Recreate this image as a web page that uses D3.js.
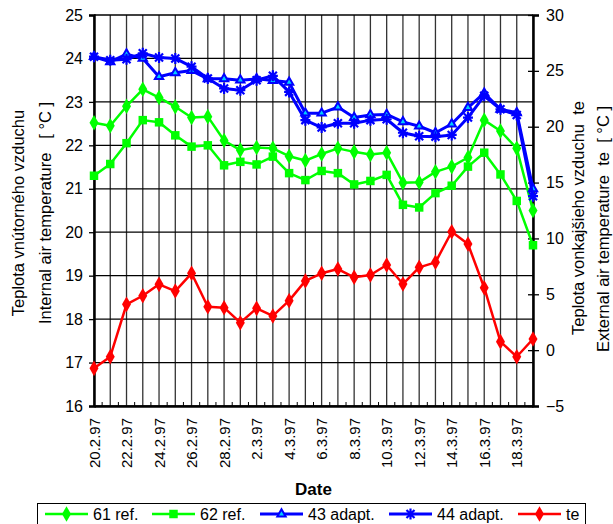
<!DOCTYPE html>
<html>
<head>
<meta charset="utf-8">
<script src="https://cdn.jsdelivr.net/npm/d3@7"></script>
<style>
  body { margin: 0; background: #fff; }
  svg { display: block; font-family: "Liberation Sans", Arial, sans-serif; }
</style>
</head>
<body>
<div id="chart"></div>
<script>
// dates (one measurement per day)
const dates = ["20.2.97","21.2.97","22.2.97","23.2.97","24.2.97","25.2.97","26.2.97","27.2.97","28.2.97",
  "1.3.97","2.3.97","3.3.97","4.3.97","5.3.97","6.3.97","7.3.97","8.3.97","9.3.97","10.3.97",
  "11.3.97","12.3.97","13.3.97","14.3.97","15.3.97","16.3.97","17.3.97","18.3.97","19.3.97"];

// internal air temperature, left axis
const ref61 = [22.52,22.45,22.9,23.29,23.1,22.89,22.64,22.66,22.11,21.89,21.95,21.93,21.75,21.65,
  21.8,21.93,21.85,21.79,21.83,21.14,21.15,21.39,21.51,21.72,22.58,22.33,21.93,20.5];
const ref62 = [21.3,21.57,22.05,22.58,22.53,22.23,21.97,22.0,21.54,21.62,21.56,21.74,21.36,21.2,
  21.41,21.36,21.1,21.18,21.32,20.63,20.57,20.9,21.07,21.51,21.83,21.33,20.72,19.7];
const adapt43 = [24.04,23.92,24.1,24.0,23.58,23.67,23.72,23.53,23.53,23.5,23.53,23.49,23.45,22.74,
  22.74,22.88,22.64,22.7,22.71,22.54,22.44,22.29,22.49,22.87,23.2,22.83,22.75,21.0];
const adapt44 = [24.04,23.96,23.98,24.12,24.02,24.0,23.81,23.54,23.31,23.27,23.5,23.6,23.23,22.58,
  22.41,22.51,22.51,22.58,22.6,22.29,22.21,22.2,22.24,22.64,23.14,22.83,22.7,20.83];
// external air temperature, right axis
const te = [-1.63,-0.59,4.1,4.87,5.89,5.29,6.88,3.89,3.8,2.46,3.74,3.06,4.43,6.2,
  6.88,7.26,6.52,6.73,7.62,5.92,7.41,7.86,10.6,9.5,5.59,0.76,-0.59,1.0];

const leftTicks = [16,17,18,19,20,21,22,23,24,25];
const rightTicks = [-5,0,5,10,15,20,25,30];

const width = 613, height = 524;
const margin = { top: 15, right: 80, bottom: 118, left: 94 };
const x0 = margin.left, x1 = width - margin.right, y0 = margin.top, y1 = height - margin.bottom;

const svg = d3.select("#chart").append("svg")
  .attr("width", width).attr("height", height);

const x = d3.scalePoint().domain(dates).range([x0, x1]).padding(0);
const xi = d3.scaleLinear().domain([0, dates.length - 1]).range([x0, x1]);
const yL = d3.scaleLinear().domain([16, 25]).range([y1, y0]);
const yR = d3.scaleLinear().domain([-5, 30]).range([y1, y0]);

// grid
svg.append("g").selectAll("line").data(dates).join("line")
  .attr("x1", d => x(d)).attr("x2", d => x(d))
  .attr("y1", y0).attr("y2", y1)
  .attr("stroke", "#333").attr("stroke-width", 1.3);
svg.append("g").selectAll("line").data(leftTicks).join("line")
  .attr("x1", x0).attr("x2", x1)
  .attr("y1", d => yL(d)).attr("y2", d => yL(d))
  .attr("stroke", "#000").attr("stroke-width", 1.3);

// minor ticks on the date axis
svg.append("g").selectAll("line").data(d3.range(dates.length - 1)).join("line")
  .attr("x1", d => xi(d + 0.5)).attr("x2", d => xi(d + 0.5))
  .attr("y1", y1).attr("y2", y1 - 4)
  .attr("stroke", "#000").attr("stroke-width", 1);

// axes
const gL = svg.append("g").attr("transform", `translate(${x0},0)`)
  .call(d3.axisLeft(yL).tickValues(leftTicks).tickSize(5).tickPadding(6));
const gR = svg.append("g").attr("transform", `translate(${x1},0)`)
  .call(d3.axisRight(yR).tickValues(rightTicks).tickSize(6).tickPadding(7).tickFormat(d3.format("d")));
gR.selectAll(".tick line").attr("x1", -5);
const gB = svg.append("g").attr("transform", `translate(0,${y1})`)
  .call(d3.axisBottom(x).tickValues(dates.filter((d, i) => i % 2 === 0)).tickSize(0).tickPadding(0));
gB.selectAll("text")
  .attr("transform", "rotate(-90)")
  .attr("text-anchor", "end")
  .attr("x", -12).attr("y", 0).attr("dy", "0.35em");

svg.selectAll(".domain").attr("stroke", "#000").attr("stroke-width", 2.5);
svg.selectAll(".tick line").attr("stroke", "#000").attr("stroke-width", 1.3);
svg.selectAll(".tick text").attr("fill", "#000").attr("font-size", 15)
  .attr("font-family", "Liberation Sans, Arial, sans-serif");
gL.selectAll(".tick text").attr("font-size", 16);
gR.selectAll(".tick text").attr("font-size", 16);
gB.selectAll(".tick text").attr("font-size", 15);

// axis titles
const leftTitle = svg.append("text").attr("transform", "translate(24,213) rotate(-90)")
  .attr("text-anchor", "middle").attr("font-size", 16.5).attr("xml:space", "preserve");
leftTitle.append("tspan").attr("x", 0).attr("y", 0).text("Teplota vnútorného vzduchu");
leftTitle.append("tspan").attr("x", 0).attr("y", 27)
  .text("Internal air temperature   [ °C ]");
const rightTitle = svg.append("text").attr("transform", "translate(584,218) rotate(-90)")
  .attr("text-anchor", "middle").attr("font-size", 16.5).attr("xml:space", "preserve");
rightTitle.append("tspan").attr("x", 0).attr("y", 0).text("Teplota vonkajšieho vzduchu  te");
rightTitle.append("tspan").attr("x", 0).attr("y", 25).attr("dx", -11)
  .text("External air temperature  te  [ °C ]");
svg.append("text").attr("x", (x0 + x1) / 2).attr("y", 495)
  .attr("text-anchor", "middle").attr("font-size", 17).attr("font-weight", "bold").text("Date");

// series
const series = [
  { name: "61 ref.", values: ref61, y: yL, color: "#00ff00", lw: 2.5, marker: "diamond" },
  { name: "62 ref.", values: ref62, y: yL, color: "#00ff00", lw: 2.5, marker: "square" },
  { name: "43 adapt.", values: adapt43, y: yL, color: "#0000ff", lw: 3, marker: "triangle" },
  { name: "44 adapt.", values: adapt44, y: yL, color: "#0000ff", lw: 3, marker: "star" },
  { name: "te", values: te, y: yR, color: "#ff0000", lw: 2.5, marker: "diamond" }
];

function drawMarker(g, type, color) {
  if (type === "diamond") {
    g.append("path").attr("d", d3.symbol(d3.symbolDiamond, 70)()).attr("fill", color);
  } else if (type === "square") {
    g.append("path").attr("d", d3.symbol(d3.symbolSquare, 72)()).attr("fill", color);
  } else if (type === "triangle") {
    g.append("path").attr("d", d3.symbol(d3.symbolTriangle, 30)())
      .attr("fill", "#00ccff").attr("stroke", color).attr("stroke-width", 2);
  } else {
    g.append("path").attr("d", "M-4,-4L4,4M-4,4L4,-4M0,-5.5L0,5.5M-5,0L5,0")
      .attr("fill", "none").attr("stroke", color).attr("stroke-width", 2.2);
  }
}

const line = (yScale) => d3.line().x((d, i) => x(dates[i])).y(d => yScale(d));

series.forEach(s => {
  svg.append("path").datum(s.values)
    .attr("d", line(s.y))
    .attr("fill", "none").attr("stroke", s.color).attr("stroke-width", s.lw)
    .attr("stroke-linejoin", "round");
  svg.append("g").selectAll("g").data(s.values).join("g")
    .attr("transform", (d, i) => `translate(${x(dates[i])},${s.y(d)})`)
    .each(function () { drawMarker(d3.select(this), s.marker, s.color); });
});

// legend
svg.append("rect").attr("x", 37.5).attr("y", 503.5).attr("width", 548).attr("height", 30)
  .attr("fill", "#fff").attr("stroke", "#000").attr("stroke-width", 1);
const legendX = [45, 152, 260, 389, 518];
const lg = svg.append("g").selectAll("g").data(series).join("g")
  .attr("transform", (d, i) => `translate(${legendX[i]},514)`);
lg.append("line").attr("x1", 0).attr("x2", 43)
  .attr("stroke", d => d.color).attr("stroke-width", d => d.lw);
lg.each(function (d) {
  const m = d3.select(this).append("g").attr("transform", "translate(21.5,0)");
  drawMarker(m, d.marker, d.color);
});
lg.append("text").attr("x", 48).attr("y", 6).attr("font-size", 16).text(d => d.name);
</script>
</body>
</html>
